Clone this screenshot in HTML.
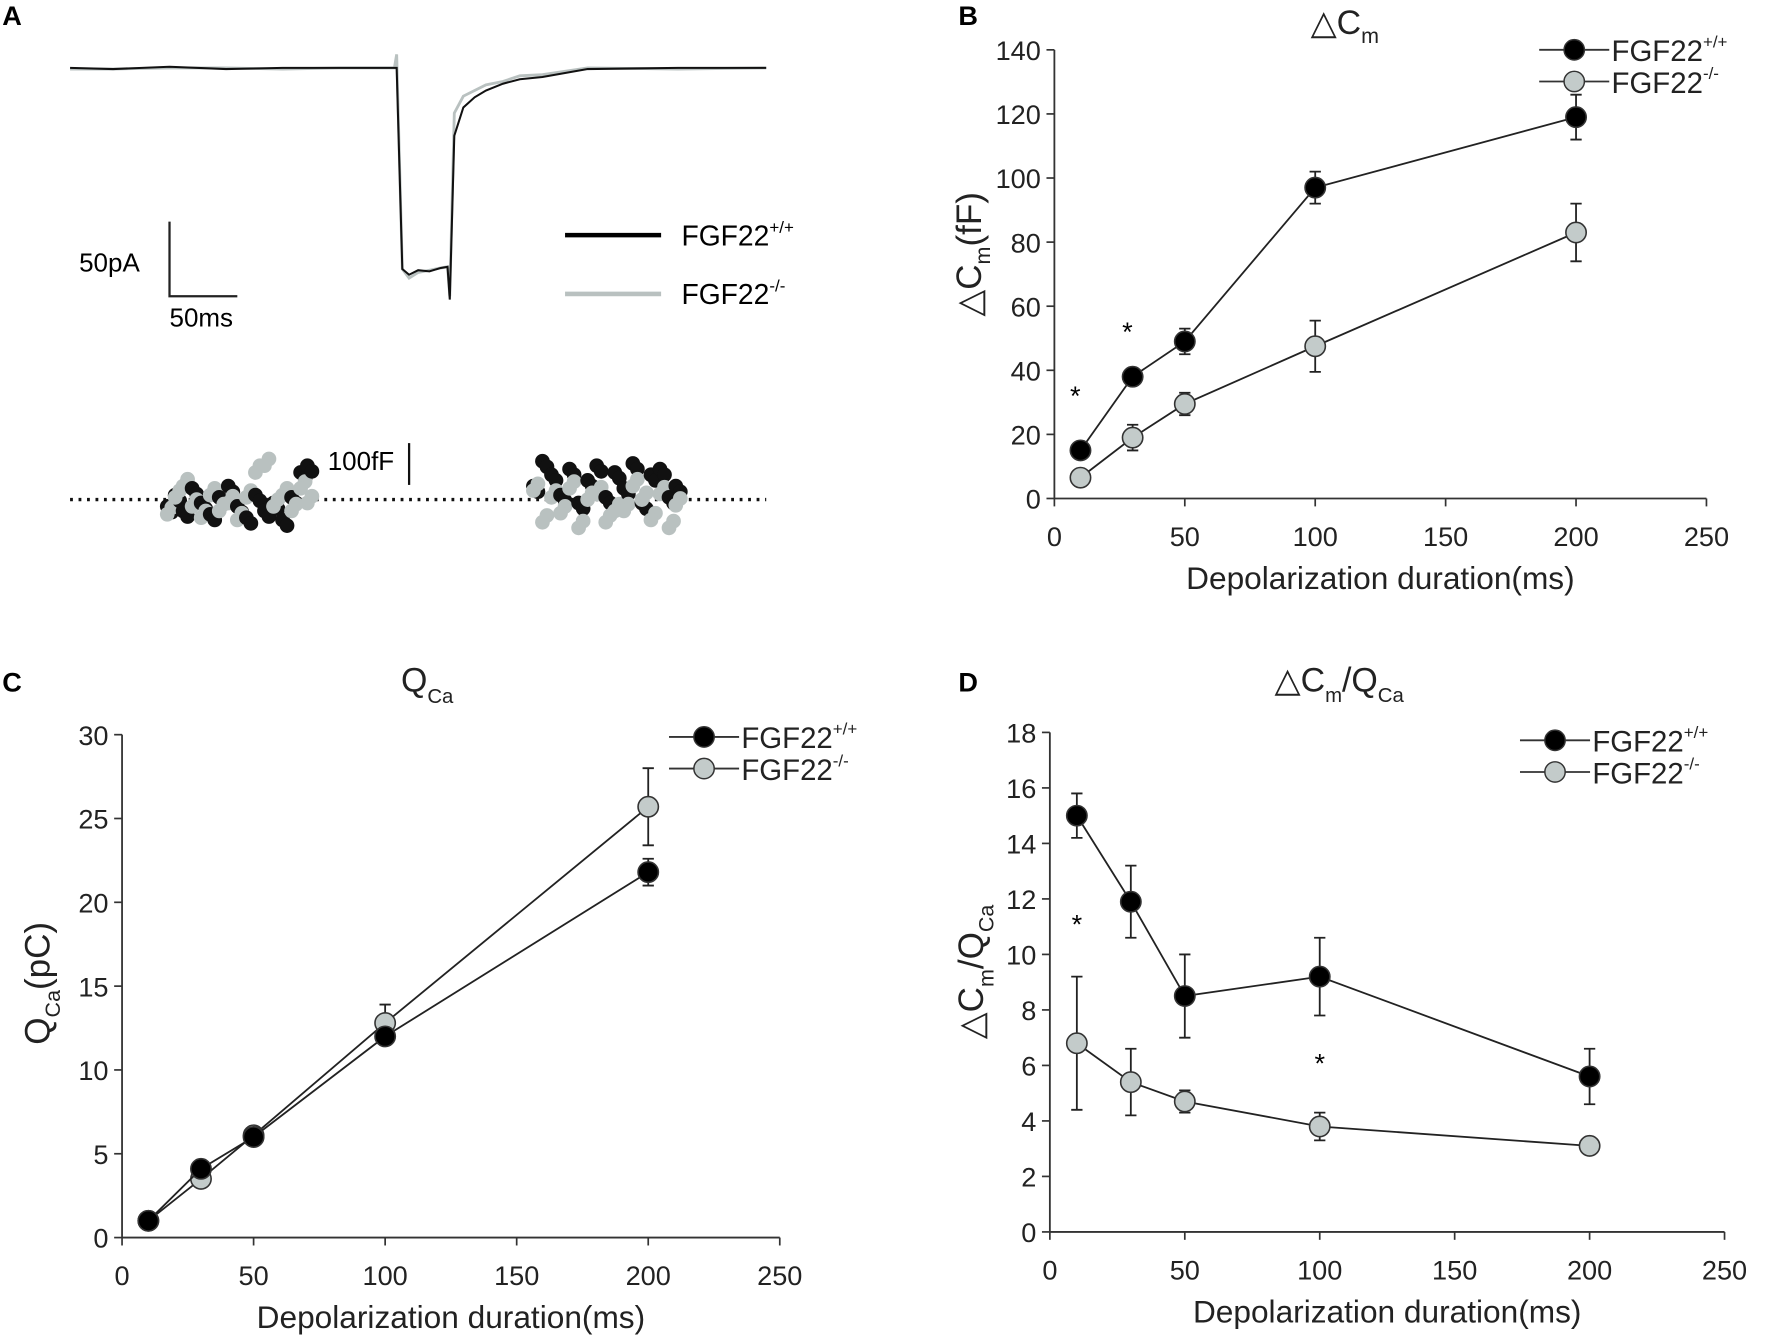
<!DOCTYPE html>
<html><head><meta charset="utf-8"><style>
html,body{margin:0;padding:0;background:#fff;}
svg{display:block;font-family:"Liberation Sans",Arial,sans-serif;}
</style></head><body>
<svg id="fig" width="1772" height="1336" viewBox="0 0 1568 1182" xmlns="http://www.w3.org/2000/svg">
<rect width="1568" height="1182" fill="#fff"/>
<g id="panelA">
<text x="2" y="22" font-size="24" font-weight="bold">A</text>
<polyline id="traceGray" fill="none" stroke="#b9c1c0" stroke-width="2.5"/>
<polyline id="traceBlack" fill="none" stroke="#111" stroke-width="1.8"/>
<path d="M150 196 V262 H210" fill="none" stroke="#222" stroke-width="2"/>
<text x="70" y="240" font-size="23">50pA</text>
<text x="150" y="289" font-size="23">50ms</text>
<line x1="500" y1="208" x2="585" y2="208" stroke="#000" stroke-width="4"/>
<line x1="500" y1="260" x2="585" y2="260" stroke="#b9c1c0" stroke-width="4"/>
<text x="603" y="217" font-size="25">FGF22<tspan font-size="15" dy="-11">+/+</tspan></text>
<text x="603" y="269" font-size="25">FGF22<tspan font-size="15" dy="-11">-/-</tspan></text>
<line x1="62" y1="442" x2="678" y2="442" stroke="#111" stroke-width="3" stroke-dasharray="2.5,5"/>
<line x1="362" y1="392" x2="362" y2="429" stroke="#111" stroke-width="2"/>
<text x="290" y="416" font-size="23">100fF</text>
<g id="dots"></g>
</g>
<g id="charts"></g>
</svg>
<script>
const NS="http://www.w3.org/2000/svg";
const traceXs=[62,100,150,200,250,300,349,351,356,362,370,380,390,396,398,402,410,420,430,445,460,480,520,600,678];
const traceYsBlack=[60,61,59,61,60,60,60,60,238,243,239,240,237,236,265,120,95,86,80,74,70,68,61,60,60];
const traceYsGray=[61,61,60,60,61,60,60,48,238,246,241,239,237,236,262,100,85,80,75,72,67,66,60,61,60];
const bX=[10,30,50,100,200];
const bWT=[15,38,49,97,119], bWTerr=[2,2,4,5,7];
const bKO=[6.5,19,29.5,47.5,83], bKOerr=[2,4,3.5,8,9];
const bTicksY=[0,20,40,60,80,100,120,140];
const cX=[10,30,50,100,200];
const cWT=[1,4.1,6,12,21.8], cWTerr=[0.3,0.4,0.5,0.5,0.8];
const cKO=[1,3.5,6.1,12.8,25.7], cKOerr=[0.3,0.4,0.5,1.1,2.3];
const cTicksY=[0,5,10,15,20,25,30];
const dX=[10,30,50,100,200];
const dWT=[15,11.9,8.5,9.2,5.6], dWTerr=[0.8,1.3,1.5,1.4,1];
const dKO=[6.8,5.4,4.7,3.8,3.1], dKOerr=[2.4,1.2,0.4,0.5,0.3];
const dTicksY=[0,2,4,6,8,10,12,14,16,18];
const xTicks=[0,50,100,150,200,250];

function mk(tag,attrs,parent){const e=document.createElementNS(NS,tag);for(const k in attrs)e.setAttribute(k,attrs[k]);(parent||document.getElementById('charts')).appendChild(e);return e;}

document.getElementById('traceBlack').setAttribute('points',traceXs.map((x,i)=>x+','+traceYsBlack[i]).join(' '));
document.getElementById('traceGray').setAttribute('points',traceXs.map((x,i)=>x+','+traceYsGray[i]).join(' '));
const dotXs1=[148,155,162,170,178,186,194,202,210,218,226,234,242,250,258,266,272];
const dotYs1=[448,438,452,432,445,455,440,430,448,458,438,452,445,460,440,418,412];
const dotXs2=[472,480,488,496,504,512,520,528,536,544,552,560,568,576,584,592,598];
const dotYs2=[430,408,420,438,415,445,425,412,440,418,432,410,445,420,415,440,430];
const dg=document.getElementById('dots');
function dotPair(x,y1,y2){
 let c=mk('circle',{cx:x,cy:y1,r:6.5,fill:'#111'},dg);
 c=mk('circle',{cx:x+4,cy:y1+5,r:6.5,fill:'#111'},dg);
 c=mk('circle',{cx:x+4,cy:y2,r:6.5,fill:'#b9c1c0'},dg);
 c=mk('circle',{cx:x,cy:y2+6,r:6.5,fill:'#b9c1c0'},dg);
}
dotXs1.forEach((x,i)=>dotPair(x,dotYs1[i],dotYs1[(i+5)%dotYs1.length]-6));
dotXs2.forEach((x,i)=>dotPair(x,dotYs2[i],dotYs2[(i+7)%dotYs2.length]+16));

function panel(p){
 const g=mk('g',{});
 
 
 const sx=v=>p.x0+(v/250)*(p.x250-p.x0);
 const sy=v=>p.y0-(v/p.ymax)*(p.y0-p.ytop);
 let l=mk('line',{x1:p.x0,y1:p.ytop,x2:p.x0,y2:p.y0,stroke:'#333','stroke-width':1.6},g);
 
 l=mk('line',{x1:p.x0,y1:p.y0,x2:p.x250,y2:p.y0,stroke:'#333','stroke-width':1.6},g);
 
 p.ticksY.forEach(v=>{
  mk('line',{x1:p.x0-7,x2:p.x0,y1:sy(v),y2:sy(v),stroke:'#333','stroke-width':1.5},g);
  const t=mk('text',{x:p.x0-12,y:sy(v)+9,'font-size':24,'text-anchor':'end',fill:'#222'},g);t.textContent=v;
  
 });
 xTicks.forEach(v=>{
  mk('line',{x1:sx(v),x2:sx(v),y1:p.y0,y2:p.y0+7,stroke:'#333','stroke-width':1.5},g);
  const t=mk('text',{x:sx(v),y:p.y0+42,'font-size':24,'text-anchor':'middle',fill:'#222'},g);t.textContent=v;
  
 });
 let t=mk('text',{x:(p.x0+p.x250)/2,y:p.y0+80,'font-size':28,'text-anchor':'middle',fill:'#222'},g);
 t.textContent='Depolarization duration(ms)';
 
 t=mk('text',{x:p.lx,y:p.ly,'font-size':24,'font-weight':'bold'},g);t.textContent=p.letter;
 
 const ser=[[p.ko,p.koErr,'#c3cbca','series-ko'],[p.wt,p.wtErr,'#000','series-wt']];
 ser.forEach(([vals,errs,fill,nm])=>{
  const pl=mk('polyline',{points:p.xs.map((x,i)=>sx(x)+','+sy(vals[i])).join(' '),fill:'none',stroke:'#222','stroke-width':1.6},g);
  
  p.xs.forEach((x,i)=>{
   const X=sx(x),a=sy(vals[i]+errs[i]),b=sy(vals[i]-errs[i]);
   const e=mk('path',{d:`M${X-5} ${a}H${X+5}M${X} ${a}V${b}M${X-5} ${b}H${X+5}`,stroke:'#222','stroke-width':1.6,fill:'none'},g);
   
   const c=mk('circle',{cx:X,cy:sy(vals[i]),r:9,fill:fill,stroke:'#333','stroke-width':1.4},g);
   
  });
 });
 p.stars.forEach(s=>{const st=mk('text',{x:sx(s[0]),y:sy(s[1])+11,'font-size':24,'text-anchor':'middle'},g);st.textContent='*';
  });
 [['#000','+/+',0],['#c3cbca','-/-',1]].forEach(([f,sup,i])=>{
  const y=p.legY+i*28;
  mk('line',{x1:p.legX,x2:p.legX+62,y1:y,y2:y,stroke:'#333','stroke-width':1.6},g);
  const c=mk('circle',{cx:p.legX+31,cy:y,r:9,fill:f,stroke:'#333','stroke-width':1.3},g);
  
  const lt=mk('text',{x:p.legX+64,y:y+10,'font-size':26,fill:'#222'},g);
  lt.innerHTML='FGF22<tspan font-size="15" dy="-12">'+sup+'</tspan>';
  
 });
 t=mk('text',{x:p.tx,y:p.ty,'font-size':30,'text-anchor':'middle',fill:'#222'},g);t.innerHTML=p.title;
 
 t=mk('text',{x:0,y:0,'font-size':31,'text-anchor':'middle',fill:'#222',transform:`translate(${p.yx},${p.yy}) rotate(-90)`},g);t.innerHTML=p.ytitle;
 
}
panel({name:'panel-b',letter:'B',lx:848,ly:22,x0:933,x250:1510,y0:441,ytop:44,ymax:140,ticksY:bTicksY,xs:bX,wt:bWT,wtErr:bWTerr,ko:bKO,koErr:bKOerr,
 stars:[[8,33],[28,53]],legX:1362,legY:44,tx:1190,ty:30,title:'△C<tspan font-size="19" dy="8">m</tspan>',yx:868,yy:225,ytitle:'△C<tspan font-size="19" dy="8">m</tspan><tspan dy="-8">(fF)</tspan>'});
panel({name:'panel-c',letter:'C',lx:2,ly:612,x0:108,x250:690,y0:1095,ytop:650,ymax:30,ticksY:cTicksY,xs:cX,wt:cWT,wtErr:cWTerr,ko:cKO,koErr:cKOerr,
 stars:[],legX:592,legY:652,tx:378,ty:612,title:'Q<tspan font-size="18" dy="10">Ca</tspan>',yx:44,yy:870,ytitle:'Q<tspan font-size="19" dy="9">Ca</tspan><tspan dy="-9">(pC)</tspan>'});
panel({name:'panel-d',letter:'D',lx:848,ly:612,x0:929,x250:1526,y0:1090,ytop:648,ymax:18,ticksY:dTicksY,xs:dX,wt:dWT,wtErr:dWTerr,ko:dKO,koErr:dKOerr,
 stars:[[10,11.2],[100,6.2]],legX:1345,legY:655,tx:1185,ty:612,title:'△C<tspan font-size="18" dy="9">m</tspan><tspan dy="-9">/Q</tspan><tspan font-size="18" dy="9">Ca</tspan>',yx:870,yy:860,ytitle:'△C<tspan font-size="19" dy="9">m</tspan><tspan dy="-9">/Q</tspan><tspan font-size="19" dy="9">Ca</tspan>'});
</script>
</body></html>
